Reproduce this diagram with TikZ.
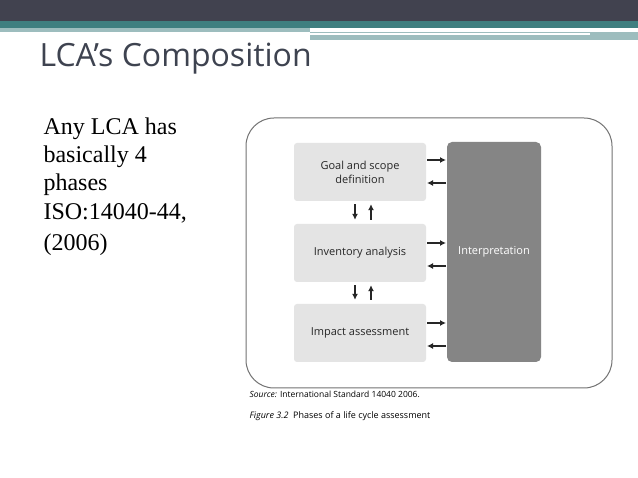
\documentclass[tikz,border=0pt]{standalone}
\usepackage{fontspec}
\setmainfont{Liberation Serif}
\newfontfamily\sansf{Open Sans}
\usetikzlibrary{arrows.meta}
\definecolor{darkbar}{HTML}{41424F}
\definecolor{tealbar}{HTML}{3F7F80}
\definecolor{lteal}{HTML}{9DBDBE}
\definecolor{boxg}{HTML}{E4E4E4}
\definecolor{interp}{HTML}{858585}
\definecolor{titlec}{HTML}{3E4350}
\tikzset{
 phase/.style={draw=none,fill=boxg,rounded corners=3pt,minimum width=132pt,minimum height=58pt,font=\sansf\fontsize{11}{14}\selectfont,align=center,text=black!85},
 arr/.style={-{Latex[length=6pt,width=6pt]},line width=1.5pt,black!85},
 lefttxt/.style={anchor=base west,font=\fontsize{24}{27}\selectfont,text=black}
}
\begin{document}
\begin{tikzpicture}[x=1pt,y=-1pt]
\useasboundingbox (0,0) rectangle (638,478);
\fill[white] (0,0) rectangle (638,478);
\fill[darkbar] (0,0) rectangle (638,21);
\fill[tealbar] (0,21) rectangle (638,28);
\fill[lteal] (0,28) rectangle (310,32);
\fill[lteal] (310,32) rectangle (638,40);
\fill[white] (310,33) rectangle (590,35);
\node[anchor=base west,font=\sansf\fontsize{32}{36}\selectfont,text=titlec] (title) at (36,67) {LCA’s Composition};
\node[lefttxt] (l1) at (40,135) {Any LCA has};
\node[lefttxt] (l2) at (40,163) {basically 4};
\node[lefttxt] (l3) at (40,191) {phases};
\node[lefttxt] (l4) at (40,220) {ISO:14040-44,};
\node[lefttxt] (l5) at (40,251) {(2006)};
\draw[black!55,line width=1pt,rounded corners=28pt] (246,118) rectangle (612,388);
\node[phase] (goal) at (360,172) {Goal and scope\\definition};
\node[phase] (inv) at (360,253) {Inventory analysis};
\node[phase] (imp) at (360,333) {Impact assessment};
\node[fill=interp,rounded corners=5pt,minimum width=94pt,minimum height=220pt,text=white,font=\sansf\fontsize{11}{14}\selectfont] (int) at (494,252) {Interpretation};
\draw[arr] ([xshift=-5pt,yshift=-3pt]goal.south) -- ([xshift=-5pt,yshift=4pt]inv.north);
\draw[arr] ([xshift=11pt,yshift=4pt]inv.north) -- ([xshift=11pt,yshift=-3pt]goal.south);
\draw[arr] ([xshift=-5pt,yshift=-3pt]inv.south) -- ([xshift=-5pt,yshift=4pt]imp.north);
\draw[arr] ([xshift=11pt,yshift=4pt]imp.north) -- ([xshift=11pt,yshift=-3pt]inv.south);
\foreach \b/\y in {goal/160,inv/243,imp/323}{
 \coordinate (a\b) at (427,\y); \coordinate (b\b) at (446,\y);
 \coordinate (c\b) at (427,\y+23); \coordinate (d\b) at (446,\y+23);
 \draw[arr] (a\b) -- (b\b);
 \draw[arr] (d\b) -- (c\b);
}
\node[anchor=base west,font=\sansf\fontsize{8.5}{10}\selectfont] (src) at (246,398) {\textit{Source:} International Standard 14040 2006.};
\node[anchor=base west,font=\sansf\fontsize{9}{11}\selectfont] (fig) at (246,419) {\textit{Figure 3.2} \ Phases of a life cycle assessment};
\end{tikzpicture}
\end{document}
